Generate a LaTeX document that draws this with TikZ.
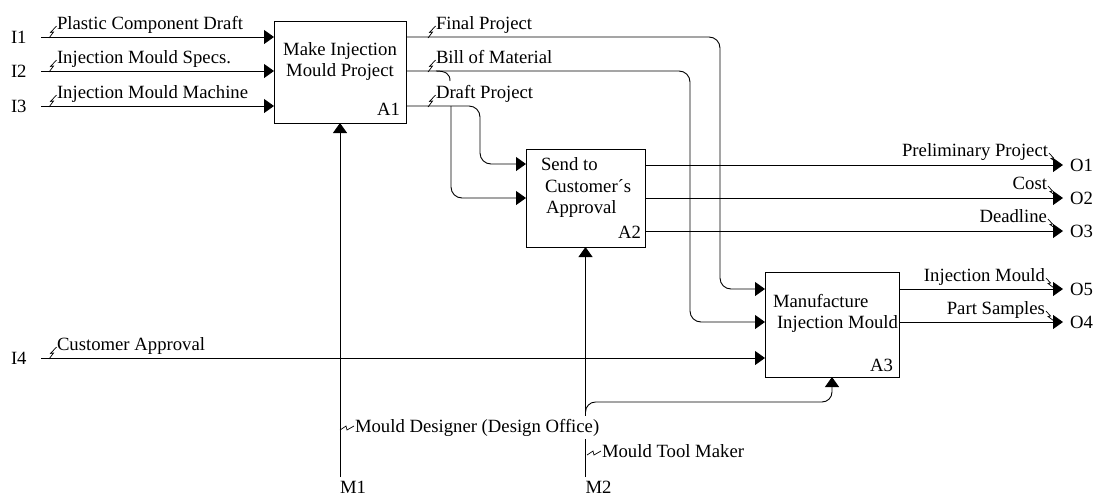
\documentclass[tikz,border=0pt]{standalone}
\usepackage{fontspec}
\setmainfont{Liberation Serif}
\usetikzlibrary{arrows.meta}
\tikzset{
  every node/.style={inner sep=0pt, outer sep=0pt},
  box/.style={draw, line width=0.9pt, rectangle, inner sep=0pt},
  conn/.style={line width=0.9pt},
  flow/.style={line width=0.9pt, -{Triangle[length=10pt,width=14pt]}},
  lbl/.style={font=\fontsize{18.7}{21}\selectfont},
  zin/.pic={\draw[line width=0.7pt] (0,0) -- (4.5,-6) -- (1.5,-5.5) -- (7.5,-12);},
  zout/.pic={\draw[line width=0.7pt] (0,0) -- (4.5,5) -- (2,5.5) -- (8,10);},
  zctl/.pic={\draw[line width=0.7pt] (0,1) -- (6,-3) -- (7,1) -- (14,-3);}
}
\begin{document}
\begin{tikzpicture}[x=1pt,y=-1pt]
\useasboundingbox (0,0) rectangle (1096,496);

% activity boxes
\node[box, minimum width=132pt, minimum height=102pt] (A1) at (340,72) {};
\node[box, minimum width=119pt, minimum height=98pt] (A2) at (585.5,198) {};
\node[box, minimum width=134pt, minimum height=105pt] (A3) at (832,324.5) {};

% box texts
\node[lbl, anchor=base] (a1t1) at (340,55) {Make Injection};
\node[lbl, anchor=base] (a1t2) at (340,76) {Mould Project};
\node[lbl, anchor=base east] (a1n) at (400,115) {A1};
\node[lbl, anchor=base west] (a2t1) at (541,170) {Send to};
\node[lbl, anchor=base west] (a2t2) at (545,192) {Customer´s};
\node[lbl, anchor=base west] (a2t3) at (546,213) {Approval};
\node[lbl, anchor=base east] (a2n) at (641,238) {A2};
\node[lbl, anchor=base west] (a3t1) at (773,307) {Manufacture};
\node[lbl, anchor=base west] (a3t2) at (777,328) {Injection Mould};
\node[lbl, anchor=base east] (a3n) at (893,371) {A3};

% boundary labels
\node[lbl, anchor=west] (I1) at (11,37) {I1};
\node[lbl, anchor=west] (I2) at (11,71) {I2};
\node[lbl, anchor=west] (I3) at (11,106) {I3};
\node[lbl, anchor=west] (I4) at (11,358) {I4};
\node[lbl, anchor=west] (O1) at (1070,165) {O1};
\node[lbl, anchor=west] (O2) at (1070,198) {O2};
\node[lbl, anchor=west] (O3) at (1070,231) {O3};
\node[lbl, anchor=west] (O5) at (1070,289) {O5};
\node[lbl, anchor=west] (O4) at (1070,322) {O4};
\node[lbl, anchor=base west] (M1) at (340,493) {M1};
\node[lbl, anchor=base west] (M2) at (585.5,493) {M2};

% line end points
\coordinate (i1) at (41,37);
\coordinate (i2) at (41,71);
\coordinate (i3) at (41,106);
\coordinate (i4) at (41,358);
\coordinate (m1) at (340,477);
\coordinate (m2) at (585.5,477);
\coordinate (fpc) at (720,37);
\coordinate (bmc) at (690,71);
\coordinate (dpa) at (451,106);
\coordinate (dpb) at (480,106);
\coordinate (m2a) at (585.5,414);
\coordinate (m2b) at (585.5,402);
\coordinate (m2c) at (832,402);

% inputs to A1
\draw[flow] (i1) -- (i1 -| A1.west);
\draw[flow] (i2) -- (i2 -| A1.west);
\draw[flow] (i3) -- (i3 -| A1.west);

% A1 outputs
\draw[flow, rounded corners=11pt] (A1.east |- fpc) -- (fpc) -- (fpc |- 0,289) -- (A3.west |- 0,289);
\draw[flow, rounded corners=11pt] (A1.east |- bmc) -- (bmc) -- (bmc |- 0,322) -- (A3.west |- 0,322);
\draw[conn] (436,71) .. controls (446,71) and (450,74) .. (450,81);
\draw[flow, rounded corners=11pt] (A1.east |- dpa) -- (dpb) -- (dpb |- 0,164) -- (A2.west |- 0,164);
\draw[flow, rounded corners=11pt] (dpa) -- (dpa |- 0,198) -- (A2.west |- 0,198);

% A2 outputs
\draw[flow] (A2.east |- O1) -- ([xshift=-7pt]O1.west);
\draw[flow] (A2.east |- O2) -- ([xshift=-7pt]O2.west);
\draw[flow] (A2.east |- O3) -- ([xshift=-7pt]O3.west);

% A3 input from I4 and outputs
\draw[flow] (i4) -- (i4 -| A3.west);
\draw[flow] (A3.east |- O5) -- ([xshift=-7pt]O5.west);
\draw[flow] (A3.east |- O4) -- ([xshift=-7pt]O4.west);

% mechanisms
\draw[flow] (m1) -- (A1.south);
\draw[flow] (m2) -- (A2.south);
\draw[flow, rounded corners=10pt] (m2a) -- (m2b) -- (m2c) -- (A3.south);

% arrow labels
\node[lbl, anchor=base west] (l1) at (57,29) {Plastic Component Draft};
\node[lbl, anchor=base west] (l2) at (57,63) {Injection Mould Specs.};
\node[lbl, anchor=base west] (l3) at (57,98) {Injection Mould Machine};
\node[lbl, anchor=base west] (l4) at (57,350) {Customer Approval};
\node[lbl, anchor=base west] (l5) at (436,29) {Final Project};
\node[lbl, anchor=base west] (l6) at (436,63) {Bill of Material};
\node[lbl, anchor=base west] (l7) at (436,98) {Draft Project};
\node[lbl, anchor=base east] (l8) at (1048,156) {Preliminary Project};
\node[lbl, anchor=base east] (l9) at (1047,189) {Cost};
\node[lbl, anchor=base east] (l10) at (1047,222) {Deadline};
\node[lbl, anchor=base east] (l11) at (1045,281) {Injection Mould};
\node[lbl, anchor=base east] (l12) at (1045,314) {Part Samples};
\node[lbl, anchor=base west, fill=white, inner ysep=3pt] (l13) at (355,432) {Mould Designer (Design Office)};
\node[lbl, anchor=base west] (l14) at (602,457) {Mould Tool Maker};

% squiggles
\foreach \n in {l1,l2,l3,l4,l5,l6,l7} \pic at ([shift={(-8,9)}]\n.base west) {zin};
\foreach \n in {l8,l9,l10,l11,l12} \pic at ([shift={(1,-3)}]\n.base east) {zout};
\foreach \n in {l13,l14} \pic at ([shift={(-15,-3)}]\n.base west) {zctl};
\end{tikzpicture}
\end{document}
